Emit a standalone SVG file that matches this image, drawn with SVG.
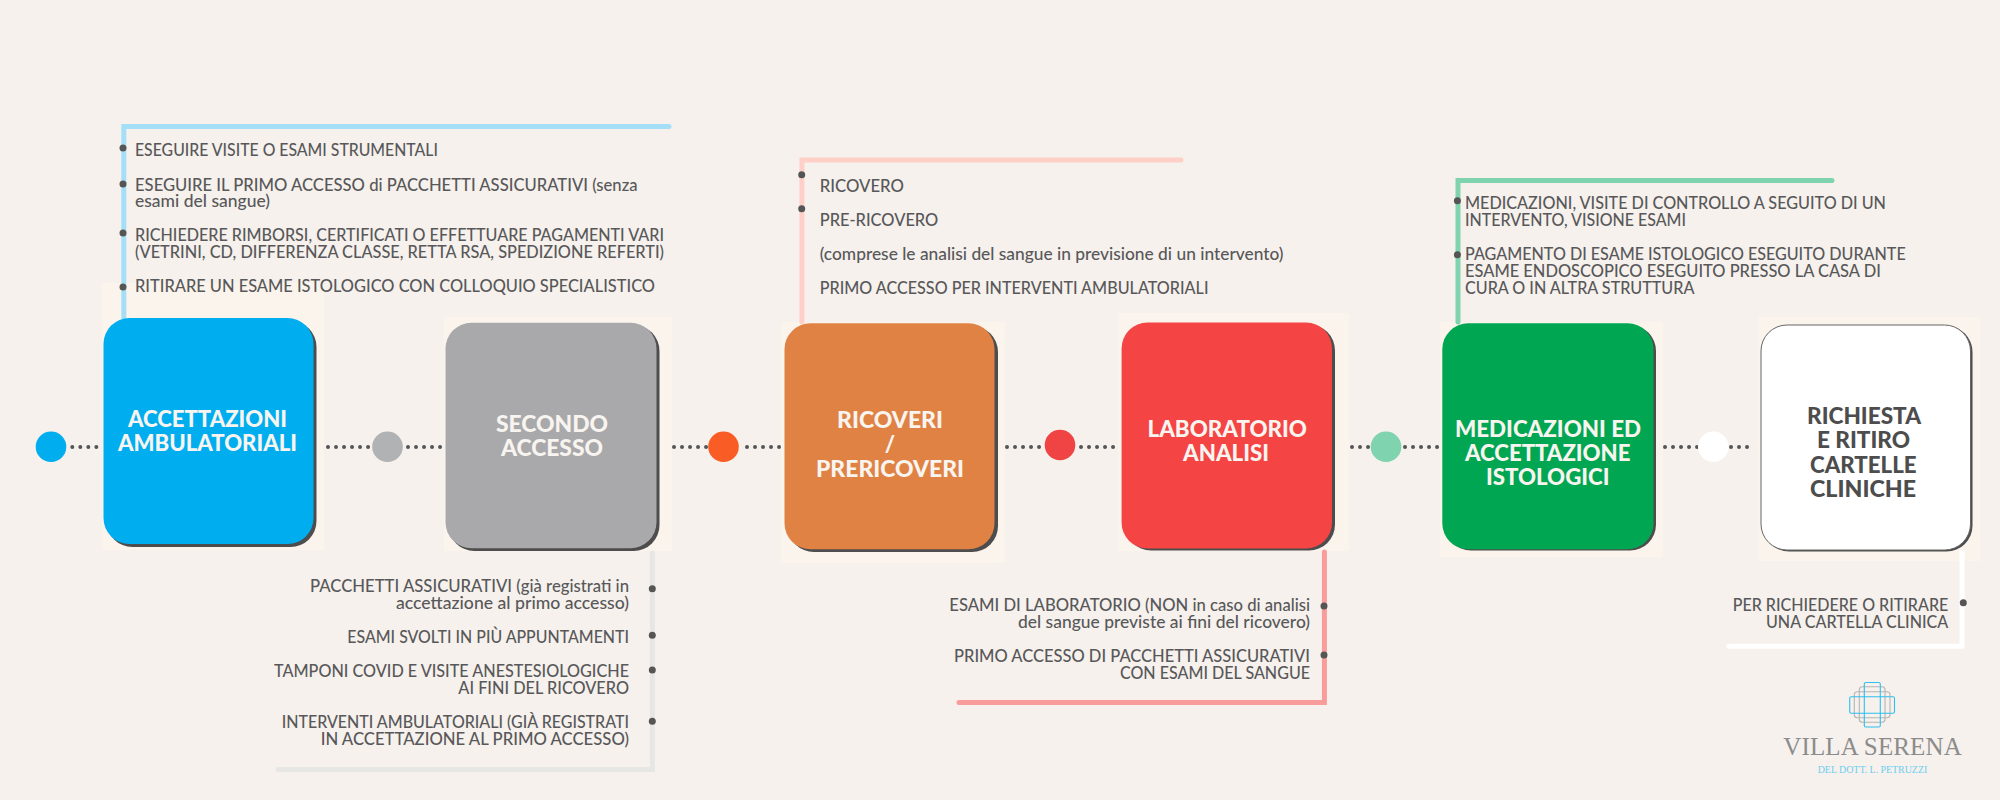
<svg xmlns="http://www.w3.org/2000/svg" width="2000" height="800" viewBox="0 0 2000 800">
<style>
.t{font-family:"Lato","Liberation Sans",sans-serif;font-size:16.5px;fill:#58585a;font-weight:500}
.l{font-family:"Lato","Liberation Sans",sans-serif;font-size:22px;font-weight:900;fill:#f8f4ef}
.d{font-family:"Lato","Liberation Sans",sans-serif;font-size:22px;font-weight:900;fill:#4d4d4d}
.halo{fill:#fbf4ec}
.sh{fill:#4d4d4d}
.dot{fill:none;stroke:#555;stroke-width:4;stroke-linecap:round;stroke-dasharray:0.01 8}
.b{fill:#555}
.br{fill:none;stroke-width:5;stroke-linejoin:miter;stroke-linecap:round}
</style>
<rect width="2000" height="800" fill="#f6f1ec"/>
<g id="halos">
<rect class="halo" x="102" y="283" width="222" height="267"/>
<rect class="halo" x="444" y="317" width="228" height="234"/>
<rect class="halo" x="781" y="322" width="224" height="241"/>
<rect class="halo" x="1118" y="313" width="231" height="238"/>
<rect class="halo" x="1440" y="322" width="223" height="235"/>
<rect class="halo" x="1758" y="317" width="222" height="244"/>
</g>
<g id="connectors">
<path class="br" stroke="#a5dff7" d="M123.8 318V126.5H669"/>
<path class="br" stroke="#e6e6e4" d="M652.3 553V769.5H278"/>
<path class="br" stroke="#ffd0c8" d="M801.9 322V160H1181"/>
<path class="br" stroke="#f89c9c" d="M1324.4 552V702.5H959"/>
<path class="br" stroke="#7fd3ae" d="M1458 322V180.5H1832"/>
<path class="br" stroke="#ffffff" d="M1962 552V646.3H1729"/>
<path class="dot" d="M72.3 447H100"/>
<path class="dot" d="M328 447H372"/>
<path class="dot" d="M408 447H443"/>
<path class="dot" d="M674 447H709"/>
<path class="dot" d="M747 447H780"/>
<path class="dot" d="M1007 447H1044"/>
<path class="dot" d="M1081 447H1118"/>
<path class="dot" d="M1352 447H1371"/>
<path class="dot" d="M1405 447H1441"/>
<path class="dot" d="M1665 447H1698"/>
<path class="dot" d="M1731 447H1755"/>
</g>
<g id="dots">
<circle cx="51" cy="446.7" r="15.3" fill="#00aeef"/>
<circle cx="387.5" cy="446.7" r="15.3" fill="#b0b2b4"/>
<circle cx="723.5" cy="446.7" r="15.3" fill="#f95c25"/>
<circle cx="1060" cy="445" r="15.3" fill="#f04444"/>
<circle cx="1386" cy="446.7" r="15.3" fill="#7fd3ae"/>
<circle cx="1713.3" cy="446.7" r="15.3" fill="#ffffff"/>
</g>
<g id="node-accettazioni">
<rect class="sh" x="106.5" y="321" width="210" height="226" rx="26"/>
<rect x="103.5" y="318" width="210" height="226" rx="26" fill="#00aeef"/>
<text class="l" x="128" y="426.7" textLength="159" lengthAdjust="spacingAndGlyphs">ACCETTAZIONI</text>
<text class="l" x="118" y="450.7" textLength="179" lengthAdjust="spacingAndGlyphs">AMBULATORIALI</text>
</g>
<g id="node-secondo">
<rect class="sh" x="448.5" y="325" width="211" height="226" rx="26"/>
<rect x="445.5" y="322.7" width="211" height="225.5" rx="26" fill="#a9a9ab"/>
<text class="l" x="496" y="431.7" textLength="112" lengthAdjust="spacingAndGlyphs">SECONDO</text>
<text class="l" x="501" y="455.7" textLength="102" lengthAdjust="spacingAndGlyphs">ACCESSO</text>
</g>
<g id="node-ricoveri">
<rect class="sh" x="788" y="326" width="210" height="226" rx="26"/>
<rect x="784.5" y="323.3" width="210" height="226" rx="26" fill="#e08244"/>
<text class="l" x="837" y="428.3" textLength="106" lengthAdjust="spacingAndGlyphs">RICOVERI</text>
<text class="l" x="890" y="452" text-anchor="middle">/</text>
<text class="l" x="816" y="476.7" textLength="148" lengthAdjust="spacingAndGlyphs">PRERICOVERI</text>
</g>
<g id="node-laboratorio">
<rect class="sh" x="1125" y="324.5" width="210" height="226" rx="26"/>
<rect x="1121.6" y="322.5" width="210.4" height="226" rx="26" fill="#f54444"/>
<text class="l" x="1147.5" y="436.7" textLength="159.5" lengthAdjust="spacingAndGlyphs">LABORATORIO</text>
<text class="l" x="1183" y="461.3" textLength="86" lengthAdjust="spacingAndGlyphs">ANALISI</text>
</g>
<g id="node-medicazioni">
<rect class="sh" x="1445" y="325" width="211" height="225.5" rx="26"/>
<rect x="1442.3" y="323.3" width="211.2" height="226" rx="26" fill="#00a651"/>
<text class="l" x="1455" y="436.7" textLength="186" lengthAdjust="spacingAndGlyphs">MEDICAZIONI ED</text>
<text class="l" x="1465" y="461" textLength="165.4" lengthAdjust="spacingAndGlyphs">ACCETTAZIONE</text>
<text class="l" x="1486" y="485" textLength="123.4" lengthAdjust="spacingAndGlyphs">ISTOLOGICI</text>
</g>
<g id="node-richiesta">
<rect class="sh" x="1763" y="326" width="209.5" height="225.5" rx="26"/>
<rect x="1761" y="325" width="209.5" height="225" rx="26" fill="#ffffff" stroke="#666" stroke-width="1"/>
<text class="d" x="1807" y="424" textLength="114" lengthAdjust="spacingAndGlyphs">RICHIESTA</text>
<text class="d" x="1817" y="448.3" textLength="93" lengthAdjust="spacingAndGlyphs">E RITIRO</text>
<text class="d" x="1810" y="472.7" textLength="106.6" lengthAdjust="spacingAndGlyphs">CARTELLE</text>
<text class="d" x="1810" y="496.7" textLength="106" lengthAdjust="spacingAndGlyphs">CLINICHE</text>
</g>
<g id="list-accettazioni">
<circle class="b" cx="123" cy="148" r="3.5"/><circle class="b" cx="123" cy="184" r="3.5"/><circle class="b" cx="123" cy="233" r="3.5"/><circle class="b" cx="123" cy="287" r="3.5"/>
<text class="t" x="135" y="156" textLength="303" lengthAdjust="spacingAndGlyphs">ESEGUIRE VISITE O ESAMI STRUMENTALI</text>
<text class="t" x="135" y="190.5" textLength="502.5" lengthAdjust="spacingAndGlyphs">ESEGUIRE IL PRIMO ACCESSO di PACCHETTI ASSICURATIVI (senza</text>
<text class="t" x="135" y="207" textLength="135" lengthAdjust="spacingAndGlyphs">esami del sangue)</text>
<text class="t" x="135" y="241" textLength="529" lengthAdjust="spacingAndGlyphs">RICHIEDERE RIMBORSI, CERTIFICATI O EFFETTUARE PAGAMENTI VARI</text>
<text class="t" x="135" y="258" textLength="529" lengthAdjust="spacingAndGlyphs">(VETRINI, CD, DIFFERENZA CLASSE, RETTA RSA, SPEDIZIONE REFERTI)</text>
<text class="t" x="135" y="292" textLength="520" lengthAdjust="spacingAndGlyphs">RITIRARE UN ESAME ISTOLOGICO CON COLLOQUIO SPECIALISTICO</text>
</g>
<g id="list-secondo">
<circle class="b" cx="652.3" cy="588.7" r="3.5"/><circle class="b" cx="652.3" cy="635.3" r="3.5"/><circle class="b" cx="652.3" cy="670" r="3.5"/><circle class="b" cx="652.3" cy="721.3" r="3.5"/>
<text class="t" x="310" y="592.3" textLength="319" lengthAdjust="spacingAndGlyphs">PACCHETTI ASSICURATIVI (già registrati in</text>
<text class="t" x="396" y="609.3" textLength="233" lengthAdjust="spacingAndGlyphs">accettazione al primo accesso)</text>
<text class="t" x="347.3" y="643" textLength="281.7" lengthAdjust="spacingAndGlyphs">ESAMI SVOLTI IN PIÙ APPUNTAMENTI</text>
<text class="t" x="274" y="677" textLength="355" lengthAdjust="spacingAndGlyphs">TAMPONI COVID E VISITE ANESTESIOLOGICHE</text>
<text class="t" x="458.3" y="694" textLength="170.7" lengthAdjust="spacingAndGlyphs">AI FINI DEL RICOVERO</text>
<text class="t" x="281.7" y="728" textLength="347.3" lengthAdjust="spacingAndGlyphs">INTERVENTI AMBULATORIALI (GIÀ REGISTRATI</text>
<text class="t" x="320.7" y="745" textLength="308.3" lengthAdjust="spacingAndGlyphs">IN ACCETTAZIONE AL PRIMO ACCESSO)</text>
</g>
<g id="list-ricoveri">
<circle class="b" cx="801.7" cy="174.7" r="3.5"/><circle class="b" cx="801.7" cy="208.7" r="3.5"/>
<text class="t" x="819.7" y="192" textLength="84.2" lengthAdjust="spacingAndGlyphs">RICOVERO</text>
<text class="t" x="819.7" y="226" textLength="118.6" lengthAdjust="spacingAndGlyphs">PRE-RICOVERO</text>
<text class="t" x="819.7" y="260" textLength="463.8" lengthAdjust="spacingAndGlyphs">(comprese le analisi del sangue in previsione di un intervento)</text>
<text class="t" x="819.7" y="294" textLength="388.8" lengthAdjust="spacingAndGlyphs">PRIMO ACCESSO PER INTERVENTI AMBULATORIALI</text>
</g>
<g id="list-laboratorio">
<circle class="b" cx="1324" cy="606" r="3.5"/><circle class="b" cx="1324" cy="655" r="3.5"/>
<text class="t" x="949.3" y="611" textLength="360.7" lengthAdjust="spacingAndGlyphs">ESAMI DI LABORATORIO (NON in caso di analisi</text>
<text class="t" x="1018" y="628.3" textLength="292" lengthAdjust="spacingAndGlyphs">del sangue previste ai fini del ricovero)</text>
<text class="t" x="954" y="661.7" textLength="356" lengthAdjust="spacingAndGlyphs">PRIMO ACCESSO DI PACCHETTI ASSICURATIVI</text>
<text class="t" x="1120" y="678.7" textLength="190" lengthAdjust="spacingAndGlyphs">CON ESAMI DEL SANGUE</text>
</g>
<g id="list-medicazioni">
<circle class="b" cx="1457.4" cy="200.7" r="3.5"/><circle class="b" cx="1457.4" cy="254.7" r="3.5"/>
<text class="t" x="1465" y="209" textLength="421" lengthAdjust="spacingAndGlyphs">MEDICAZIONI, VISITE DI CONTROLLO A SEGUITO DI UN</text>
<text class="t" x="1465" y="226" textLength="221" lengthAdjust="spacingAndGlyphs">INTERVENTO, VISIONE ESAMI</text>
<text class="t" x="1465" y="260" textLength="440.7" lengthAdjust="spacingAndGlyphs">PAGAMENTO DI ESAME ISTOLOGICO ESEGUITO DURANTE</text>
<text class="t" x="1465" y="277" textLength="415.8" lengthAdjust="spacingAndGlyphs">ESAME ENDOSCOPICO ESEGUITO PRESSO LA CASA DI</text>
<text class="t" x="1465" y="294" textLength="229.4" lengthAdjust="spacingAndGlyphs">CURA O IN ALTRA STRUTTURA</text>
</g>
<g id="list-richiesta">
<circle class="b" cx="1963.3" cy="602.7" r="3.5"/>
<text class="t" x="1732.7" y="610.7" textLength="215.6" lengthAdjust="spacingAndGlyphs">PER RICHIEDERE O RITIRARE</text>
<text class="t" x="1766" y="628" textLength="182.3" lengthAdjust="spacingAndGlyphs">UNA CARTELLA CLINICA</text>
</g>
<g id="logo" fill="none">
<rect x="1854.3" y="691.7" width="35.7" height="26" rx="3" stroke="#b5b5b5" stroke-width="1.1"/>
<rect x="1859.3" y="686.7" width="25.7" height="35.6" rx="3" stroke="#b5b5b5" stroke-width="1.1"/>
<rect x="1864.3" y="682.5" width="16" height="44.5" rx="1.5" stroke="#2cc0f0" stroke-width="1.1"/>
<rect x="1849.7" y="696.7" width="44.8" height="16.5" rx="1.5" stroke="#2cc0f0" stroke-width="1.1"/>
<text x="1783.3" y="755" font-family="Liberation Serif, serif" font-size="25" fill="#8c8c8c" textLength="178.4" lengthAdjust="spacing">VILLA SERENA</text>
<text x="1817.7" y="773" font-family="Liberation Serif, serif" font-size="10" fill="#6fcdf0" textLength="109.6" lengthAdjust="spacing">DEL DOTT. L. PETRUZZI</text>
</g>
</svg>
